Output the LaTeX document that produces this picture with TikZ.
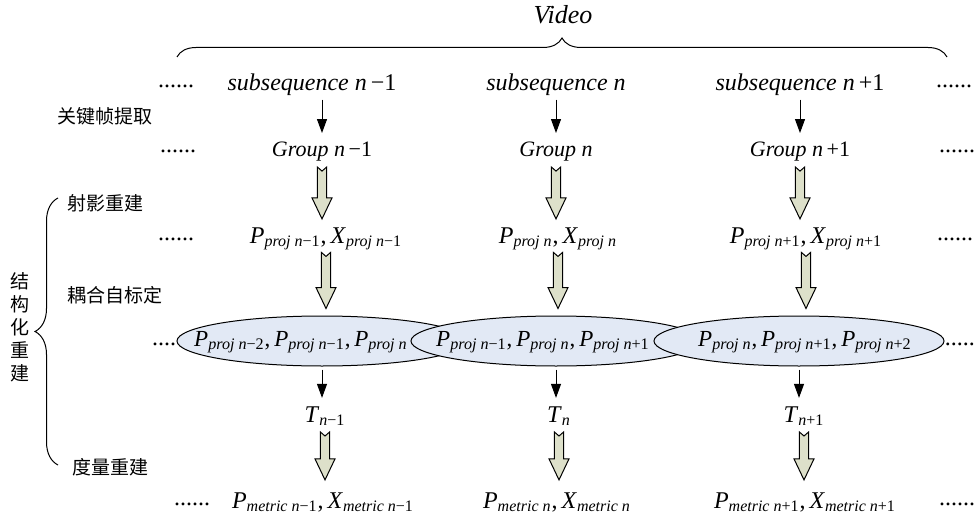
\documentclass[tikz,border=0pt]{standalone}
\usepackage{fontspec}
\setmainfont{Liberation Serif}
\newfontfamily\cjk{Noto Sans CJK SC}
\usepackage{tikz}
\usetikzlibrary{positioning, arrows.meta, shapes.geometric, decorations.pathreplacing, calc}

\definecolor{ellfill}{RGB}{226,233,245}
\definecolor{arrfill}{RGB}{221,224,202}

\newcommand{\sbs}[1]{\textsubscript{\itshape #1}}
\newcommand{\mn}{\upshape −}
\newcommand{\pl}{\upshape +}
% hollow arrow between two nodes: #3 gap at top, #4 gap below tip
\newcommand{\fat}[4]{%
  \draw[fatarr] let \p1=(#1.south), \p2=(#2.north) in
    (\x1-2.3pt,\y1-#3) -- (\x1,\y1-#3-2pt) -- (\x1+2.3pt,\y1-#3)
    -- (\x1+2.3pt,\y2+#4+10.5pt) -- (\x1+5pt,\y2+#4+10.5pt) -- (\x1,\y2+#4)
    -- (\x1-5pt,\y2+#4+10.5pt) -- (\x1-2.3pt,\y2+#4+10.5pt) -- cycle;}

\begin{document}
\begin{tikzpicture}[x=0.5pt, y=-0.5pt,
    txt/.style={anchor=base, inner sep=0pt, font=\fontsize{12}{14}\selectfont},
    grp/.style={txt, font=\fontsize{11}{13}\selectfont},
    etxt/.style={txt, font=\fontsize{11.5}{13}\selectfont},
    cn/.style={anchor=base west, inner sep=0pt, font=\cjk\fontsize{9.5}{11}\selectfont},
    etc/.style={anchor=base, inner sep=0pt, font=\fontsize{12}{14}\selectfont},
    ell/.style={draw, ellipse, fill=ellfill, minimum width=145pt, minimum height=25pt, inner sep=0pt, line width=0.5pt},
    arr/.style={-{Triangle[length=7pt,width=5pt]}, line width=0.5pt, shorten <=1.5pt, shorten >=4pt},
    fatarr/.style={fill=arrfill, line width=0.5pt, line join=miter},
    brc/.style={decorate, decoration={brace, amplitude=#1}, line width=0.5pt},
]
\useasboundingbox (0,0) rectangle (980,519);

% top
\node[txt, font=\fontsize{13}{15}\selectfont\itshape] (video) at (563,24) {Video};
\coordinate (bl) at (177,57);
\coordinate (br) at (947,57);
\draw[brc=9.5pt] (bl) -- (br);

% subsequences
\node[etc] (d1l) at (176,88) {......};
\node[txt] (s1) at (312,91) {\textit{subsequence n}\,−1};
\node[txt] (s2) at (556,91) {\textit{subsequence n}};
\node[txt] (s3) at (800,91) {\textit{subsequence n}\,+1};
\node[etc] (d1r) at (954,88) {......};

\node[cn] (kf) at (57,124) {关键帧提取};

% groups
\node[etc] (d2l) at (178,153) {......};
\node[grp] (g1) at (322,156) {\textit{Group n}\,−1};
\node[grp] (g2) at (556,156) {\textit{Group n}};
\node[grp] (g3) at (800,156) {\textit{Group n}\,+1};
\node[etc] (d2r) at (957,153) {......};

\draw[arr] (g1 |- s1.south) -- (g1.north);
\draw[arr] (g2 |- s2.south) -- (g2.north);
\draw[arr] (g3 |- s3.south) -- (g3.north);

\node[cn] (sy) at (67,210) {射影重建};

% projective
\node[etc] (d3l) at (176,240) {......};
\node[txt] (p1) at (326,243) {\textit{P}\sbs{proj n\mn1},\,\textit{X}\sbs{proj n\mn1}};
\node[txt] (p2) at (558,243) {\textit{P}\sbs{proj n},\,\textit{X}\sbs{proj n}};
\node[txt] (p3) at (806,243) {\textit{P}\sbs{proj n\pl1},\,\textit{X}\sbs{proj n\pl1}};
\node[etc] (d3r) at (955,240) {......};

\fat{g1}{p1}{3pt}{4pt}
\fat{g2}{p2}{3pt}{4pt}
\fat{g3}{p3}{3pt}{4pt}

\node[cn] (oh) at (67,302) {耦合自标定};

% coupled self-calibration
\node[ell] (e1) at (322,341) {};
\node[etxt] (e1t) at (301,346) {\textit{P}\sbs{proj n\mn2},\,\textit{P}\sbs{proj n\mn1},\,\textit{P}\sbs{proj n}};
\node[ell] (e2) at (556,341) {};
\node[etxt] (e2t) at (543,346) {\textit{P}\sbs{proj n\mn1},\,\textit{P}\sbs{proj n},\,\textit{P}\sbs{proj n\pl1}};
\node[ell] (e3) at (799,341) {};
\node[etxt] (e3t) at (805,346) {\textit{P}\sbs{proj n},\,\textit{P}\sbs{proj n\pl1},\,\textit{P}\sbs{proj n\pl2}};
\node[etc, anchor=base east] (d4l) at (e1.west |- 0,345) {....};
\node[etc, anchor=base west] (d4r) at (e3.east |- 0,345) {.....};

\fat{p1}{e1}{1pt}{3.5pt}
\fat{p2}{e2}{1pt}{3.5pt}
\fat{p3}{e3}{1pt}{3.5pt}

% transforms
\node[txt] (t1) at (325,422) {\textit{T}\sbs{n\mn1}};
\node[txt] (t2) at (559,422) {\textit{T}\sbs{n}};
\node[txt] (t3) at (804,422) {\textit{T}\sbs{n\pl1}};

\draw[arr] (e1.south) -- (e1.south |- t1.north);
\draw[arr] (e2.south) -- (e2.south |- t2.north);
\draw[arr] (e3.south) -- (e3.south |- t3.north);

\node[cn] (dl) at (72,474) {度量重建};

% metric
\node[etc] (d5l) at (192,505) {......};
\node[txt] (m1) at (323,508) {\textit{P}\sbs{metric n\mn1},\,\textit{X}\sbs{metric n\mn1}};
\node[txt] (m2) at (557,508) {\textit{P}\sbs{metric n},\,\textit{X}\sbs{metric n}};
\node[txt] (m3) at (805,508) {\textit{P}\sbs{metric n\pl1},\,\textit{X}\sbs{metric n\pl1}};
\node[etc] (d5r) at (957,505) {......};

\fat{t1}{m1}{3pt}{6pt}
\fat{t2}{m2}{3pt}{6pt}
\fat{t3}{m3}{3pt}{6pt}

% left brace
\coordinate (lb) at (58,465);
\coordinate (lt) at (58,198);
\draw[brc=11.5pt] (lb) -- (lt);
\node[font=\cjk\fontsize{9.5}{11.5}\selectfont, align=center, inner sep=0pt] (jg) at (20,327) {结\\构\\化\\重\\建};
\end{tikzpicture}
\end{document}
